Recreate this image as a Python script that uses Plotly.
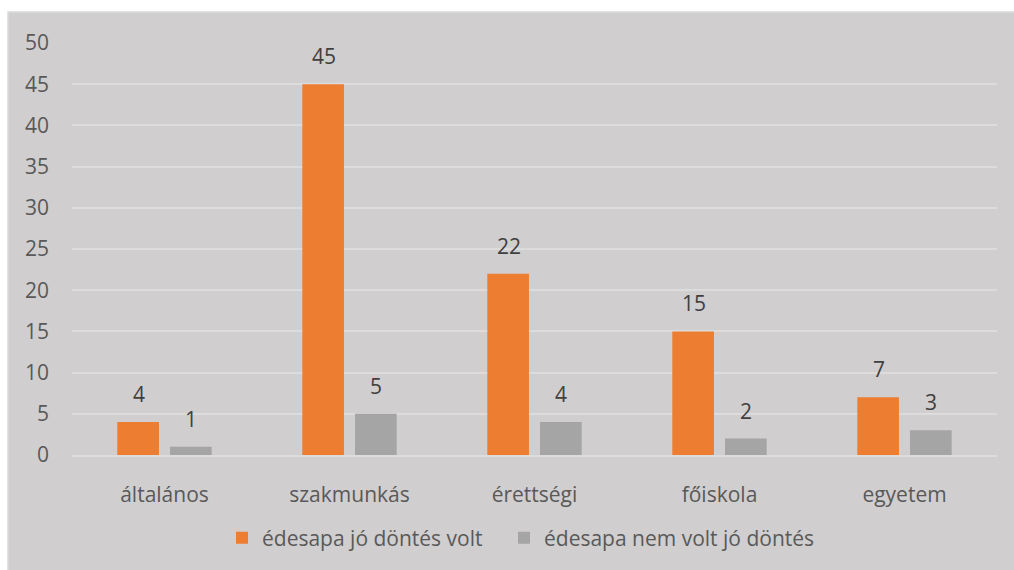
import plotly.graph_objects as go

categories = ["általános", "szakmunkás", "érettségi", "főiskola", "egyetem"]
jo_dontes = [4, 45, 22, 15, 7]
nem_jo_dontes = [1, 5, 4, 2, 3]
series_names = ["édesapa jó döntés volt", "édesapa nem volt jó döntés"]
colors = ["#ED7D31", "#A5A5A5"]

W, H = 1014, 570
L, R, T, B = 72, 17, 43, 115
pw, ph = W - L - R, H - T - B

fig = go.Figure()
for name, vals, col, lg in [(series_names[0], jo_dontes, colors[0], "legend"),
                            (series_names[1], nem_jo_dontes, colors[1], "legend2")]:
    fig.add_trace(go.Bar(x=categories, y=vals, name=name, legend=lg,
                         marker=dict(color=col, line=dict(width=0))))

font_family = "Open Sans, Liberation Sans, sans-serif"
text_col = "#595959"
FS = 21

annotations = []
for i, cat in enumerate(categories):
    for k, vals in enumerate([jo_dontes, nem_jo_dontes]):
        annotations.append(dict(
            x=cat, y=vals[i], xref="x", yref="y", text=str(vals[i]), showarrow=False,
            yanchor="bottom", yshift=12, xshift=(-26 if k == 0 else 26),
            font=dict(family=font_family, size=FS, color="#404040")))

def px_to_paper_x(p):
    return (p - L) / pw

def px_to_paper_y(p):
    return (H - B - p) / ph

fig.add_shape(type="rect", xref="paper", yref="paper",
              x0=px_to_paper_x(8), x1=px_to_paper_x(1030),
              y0=px_to_paper_y(590), y1=px_to_paper_y(12),
              fillcolor="#D0CECF", line=dict(color="#DADADA", width=1.5), layer="below")

legend_common = dict(orientation="h", xanchor="left", y=px_to_paper_y(538), yanchor="middle",
                     font=dict(size=FS, color=text_col), bgcolor="rgba(0,0,0,0)", itemwidth=30)

fig.update_layout(
    width=W, height=H,
    margin=dict(l=L, r=R, t=T, b=B),
    paper_bgcolor="white", plot_bgcolor="rgba(0,0,0,0)",
    barmode="group", bargap=0.43, bargroupgap=0.21,
    font=dict(family=font_family, size=FS, color=text_col),
    annotations=annotations,
    legend=dict(x=px_to_paper_x(222), **legend_common),
    legend2=dict(x=px_to_paper_x(504), **legend_common),
    showlegend=True,
)
fig.update_yaxes(range=[0, 50], dtick=5, showgrid=True, gridcolor="#DCDCDC", gridwidth=1.5,
                 zeroline=False, showline=False, ticks="", ticklabelstandoff=22,
                 tickfont=dict(size=FS, color=text_col))
fig.update_xaxes(showgrid=False, showline=True, linecolor="#DCDCDC", linewidth=1.5, ticks="",
                 ticklabelstandoff=20, tickfont=dict(size=FS, color=text_col))

fig.write_html("out.html", config={"displayModeBar": False},
               post_script="document.body.style.margin='0px';document.body.style.overflow='hidden';")
